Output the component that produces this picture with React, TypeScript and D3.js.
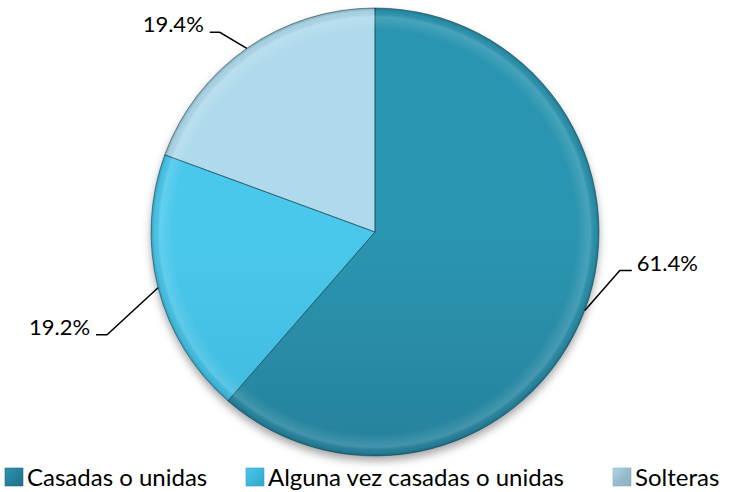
import React from "react";
import * as d3 from "d3";

const categories = ["Casadas o unidas", "Alguna vez casadas o unidas", "Solteras"];
const values = [61.4, 19.2, 19.4];
const valueLabels = ["61.4%", "19.2%", "19.4%"];
const topColors = ["#2C95B0", "#4AC8EC", "#AEDAEC"];
const midColors = ["#26819C", "#3DB8DC", "#98BCCB"];
const botColors = ["#1F6D85", "#33A2C5", "#8AAFBF"];

// layout constants (not data)
const W = 732;
const H = 492;
const CX = 375;
const CY = 232;
const R = 224;
// elbow offsets from the arc point for each leader line, and horizontal run length
const elbow = [
  [35, -40, 12],
  [-51, 47, -11],
  [-27, -16, -10],
];
const legendX = [5, 246, 613];

export default function App() {
  const pie = d3.pie<number>().sort(null).value((d) => d);
  const arcs = pie(values);
  const arc = d3.arc<d3.PieArcDatum<number>>().innerRadius(0).outerRadius(R);
  const font = "Lato, 'Open Sans', sans-serif";

  return (
    <svg width={W} height={H} style={{ position: "absolute", left: 0, top: 0 }}>
      <defs>
        <filter id="shadow" x="-20%" y="-20%" width="140%" height="140%">
          <feDropShadow dx="0" dy="5" stdDeviation="4" floodColor="#000" floodOpacity="0.35" />
        </filter>
        {midColors.map((c, i) => (
          <linearGradient key={i} id={`g${i}`} x1={0} y1={CY - R} x2={0} y2={CY + R} gradientUnits="userSpaceOnUse">
            <stop offset="0" stopColor={topColors[i]} />
            <stop offset="0.5" stopColor={c} />
            <stop offset="1" stopColor={botColors[i]} />
          </linearGradient>
        ))}
        <radialGradient id="rim" cx={CX} cy={CY} r={R} gradientUnits="userSpaceOnUse">
          <stop offset="0" stopColor="#fff" stopOpacity="0" />
          <stop offset="0.9" stopColor="#fff" stopOpacity="0" />
          <stop offset="0.96" stopColor="#fff" stopOpacity="0.14" />
          <stop offset="0.985" stopColor="#000" stopOpacity="0.04" />
          <stop offset="1" stopColor="#000" stopOpacity="0.22" />
        </radialGradient>
        {midColors.map((c, i) => (
          <linearGradient key={"l" + i} id={`lg${i}`} x1="0" y1="0" x2="1" y2="1">
            <stop offset="0" stopColor={topColors[i]} />
            <stop offset="0.5" stopColor={c} />
            <stop offset="1" stopColor={botColors[i]} />
          </linearGradient>
        ))}
      </defs>
      <g filter="url(#shadow)" transform={`translate(${CX},${CY})`}>
        {arcs.map((a, i) => (
          <path key={"p" + i} d={arc(a) || ""} fill={`url(#g${i})`} transform={`translate(${-CX},${-CY})`} style={{ transform: "none" }} />
        ))}
      </g>
      <g transform={`translate(${CX},${CY})`}>
        {arcs.map((a, i) => (
          <path key={"s" + i} d={arc(a) || ""} fill="none" stroke="#17485a" strokeOpacity={0.55} strokeWidth={1} />
        ))}
      </g>
      <circle cx={CX} cy={CY} r={R} fill="url(#rim)" />
      {arcs.map((a, i) => {
        const mid = (a.startAngle + a.endAngle) / 2;
        const px = CX + R * Math.sin(mid);
        const py = CY - R * Math.cos(mid);
        const [dx, dy, run] = elbow[i];
        const ex = px + dx;
        const ey = py + dy;
        const hx = ex + run;
        const tx = run > 0 ? hx + 5 : hx - 6;
        return (
          <g key={"lab" + i}>
            <polyline points={`${px},${py} ${ex},${ey} ${hx},${ey}`} fill="none" stroke="#000" strokeWidth={1.5} />
            <text x={tx} y={ey} fontFamily={font} fontSize={22} fill="#000"
              textAnchor={run > 0 ? "start" : "end"}>{valueLabels[i]}</text>
          </g>
        );
      })}
      {categories.map((c, i) => (
        <g key={"leg" + i}>
          <rect x={legendX[i]} y={468} width={18} height={18} fill={`url(#lg${i})`} stroke={botColors[i]} strokeWidth={0.6} />
          <text x={legendX[i] + 22} y={486} fontFamily={font} fontSize={24} fill="#000">{c}</text>
        </g>
      ))}
    </svg>
  );
}
